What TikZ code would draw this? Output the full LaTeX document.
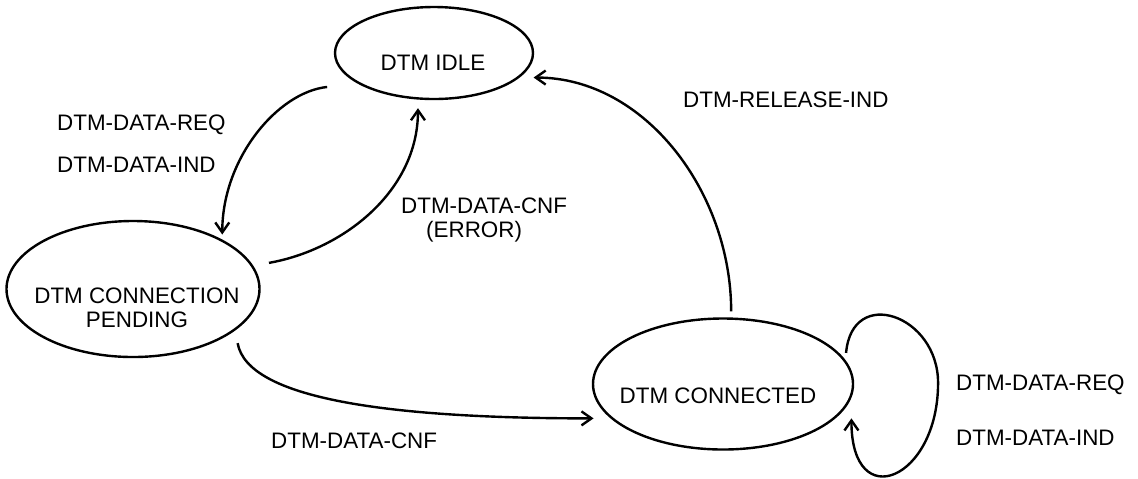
\documentclass[tikz,border=0pt]{standalone}
\usepackage{fontspec}
\setmainfont{Liberation Sans}
\usetikzlibrary{arrows.meta,shapes.geometric}
\tikzset{dtm state/.style={ellipse, draw, line width=1.2pt, inner sep=0}}
\tikzset{dtm label/.style={inner sep=0, anchor=base west}}

\begin{document}
\begin{tikzpicture}[x=.5pt,y=-.5pt,line width=1.2pt,
  >={Straight Barb[length=5pt,width=7pt]},font=\fontsize{11.2}{12}\selectfont]
\useasboundingbox (0,0) rectangle (1138,478);

% states
\node[dtm state, minimum width=99pt, minimum height=46pt] (idle) at (434,53) {};
\node[inner sep=0, anchor=base] (idletext) at (433,70) {DTM IDLE};
\node[dtm state, minimum width=126.5pt, minimum height=68pt] (pend) at (133,289) {};
\node[inner sep=0, align=center] (pendtext) at (137,308) {DTM CONNECTION\\PENDING};
\node[dtm state, minimum width=130pt, minimum height=65.5pt] (conn) at (723,384) {};
\node[inner sep=0, anchor=base] (conntext) at (718,403) {DTM CONNECTED};

% labels
\node[dtm label] (reql) at (56,130) {DTM-DATA-REQ};
\node[dtm label] (indl) at (56,172) {DTM-DATA-IND};
\node[dtm label, align=left] (cnferr) at (400,237) {DTM-DATA-CNF\\\hspace*{12.5pt}(ERROR)};
\node[dtm label] (cnf) at (270,448) {DTM-DATA-CNF};
\node[dtm label] (rel) at (682,107) {DTM-RELEASE-IND};
\node[dtm label] (reqr) at (955,390) {DTM-DATA-REQ};
\node[dtm label] (indr) at (955,445) {DTM-DATA-IND};

% transitions
\draw[->, shorten <=15.5pt, shorten >=2.5pt] (idle.202) to[out=186,in=90] (pend.29);
\draw[->, shorten <=8pt, shorten >=4.3pt] (pend.11.5) to[out=10,in=-90] (idle.251);
\draw[->, shorten <=6.5pt, shorten >=8.5pt] (pend.-22)
  to[out=-80,in=180,out distance=35pt,in distance=110pt] (conn.197);
\draw[->, shorten <=3pt, shorten >=7pt] (conn.83) to[out=90,in=0] (idle.-16);
\draw[->] ([xshift=3.5pt]conn.15) to[out=85,in=90,looseness=1.8] ++(92,30)
  to[out=-90,in=-90,looseness=2.65] ([xshift=8pt]conn.-17);

\end{tikzpicture}
\end{document}
